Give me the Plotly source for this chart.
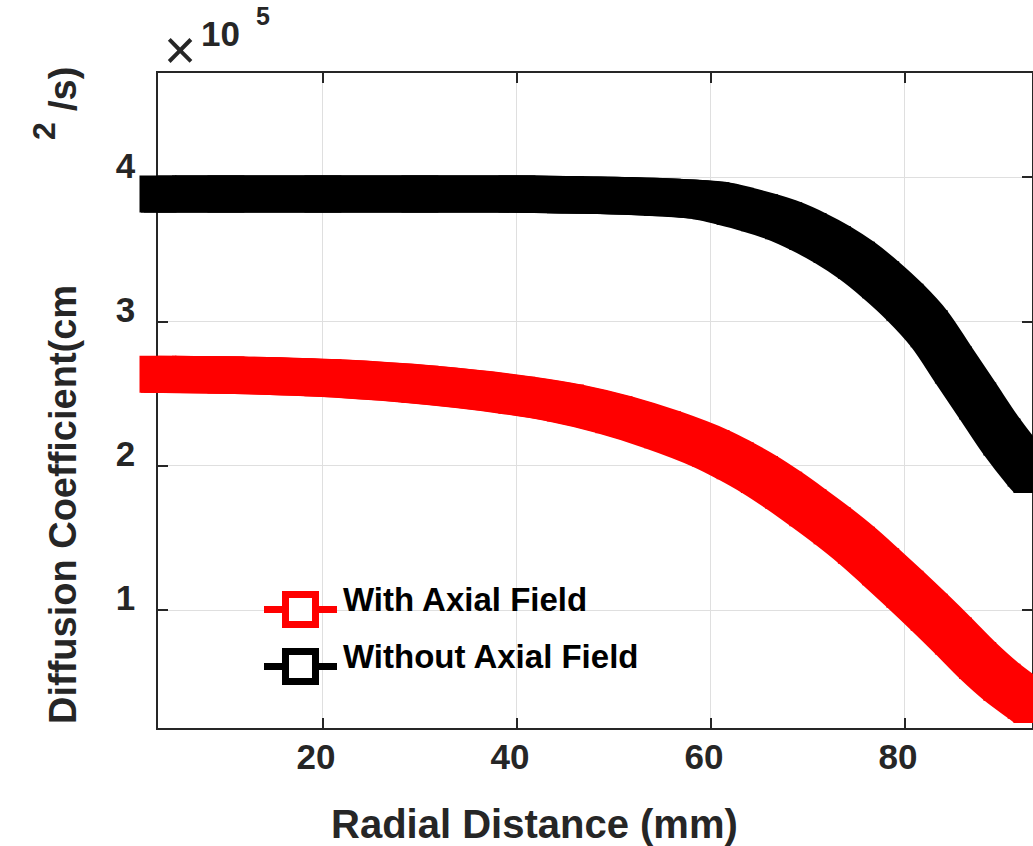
import plotly.graph_objects as go

W, H = 1033, 846

# ---------------- data (values in units of 10^5 cm^2/s) ----------------
radial_mm = [3, 10, 20, 30, 40, 45, 50, 55, 60, 62.5, 65, 67.5, 70, 72.5,
             75, 77.5, 80, 82.5, 85, 87.5, 90, 92.5, 93.1]
with_axial = [2.635, 2.63, 2.61, 2.565, 2.49, 2.435, 2.355, 2.25, 2.12, 2.035,
              1.94, 1.83, 1.71, 1.585, 1.45, 1.30, 1.145, 0.985, 0.82, 0.65,
              0.50, 0.375, 0.345]
without_axial = [3.885, 3.885, 3.885, 3.885, 3.885, 3.88, 3.875, 3.862, 3.838,
                 3.80, 3.755, 3.70, 3.625, 3.535, 3.425, 3.29, 3.135, 2.95,
                 2.70, 2.45, 2.20, 1.985, 1.94]
x_ticks = [20, 40, 60, 80]
y_ticks = [1, 2, 3, 4]
series_names = ["With Axial Field", "Without Axial Field"]
series_values = [with_axial, without_axial]
series_colors = ["#ff0000", "#000000"]

x_title = "Radial Distance (mm)"
y_title_main = "Diffusion Coefficient(cm"
y_title_sup = "2"
y_title_tail = "/s)"

# ---------------- geometry (px) ----------------
ax_l, ax_r, ax_t, ax_b = 158, 1032, 73, 728
x_range = [3.0, 93.1]
y_range = [0.182, 4.724]
ext_l = 128          # trace layer may extend a little left of the axis box
PEN = 37             # square "pen" size of the thick curves (px)

TXT = "#262626"
FONT = "Liberation Sans, Arial, Helvetica, sans-serif"


def px(x):
    return x / W


def py(y):
    return 1 - y / H


sx = (ax_r - ax_l) / (x_range[1] - x_range[0])
sy = (ax_b - ax_t) / (y_range[1] - y_range[0])
x2_range = [x_range[0] - (ax_l - ext_l) / sx, x_range[1] + (W - ax_r) / sx]

# the curves are drawn like a square pen: a main stroke plus thin strokes
# rendered through slightly shifted copies of the trace axes
pen_layers = [(0, PEN)] + [(s * a, w) for a, w in [(14, 9), (17, 3)] for s in (1, -1)]

fig = go.Figure()
# empty trace so that the framed axes (x, y) are drawn
fig.add_trace(go.Scatter(x=[], y=[], xaxis="x", yaxis="y", showlegend=False,
                         hoverinfo="skip"))

layout_axes = {}
for k, (off, width) in enumerate(pen_layers):
    ax_id = k + 2
    xs = f"xaxis{ax_id}"
    ys = f"yaxis{ax_id}"
    layout_axes[xs] = dict(domain=[px(ext_l), 1.0],
                           range=[x2_range[0] - off / sx, x2_range[1] - off / sx],
                           anchor=f"y{ax_id}", visible=False, showgrid=False,
                           fixedrange=True)
    layout_axes[ys] = dict(domain=[py(ax_b), py(ax_t)],
                           range=[y_range[0] - off / sy, y_range[1] - off / sy],
                           anchor=f"x{ax_id}", visible=False, showgrid=False,
                           fixedrange=True)
    for name, vals, col in zip(series_names, series_values, series_colors):
        main = off == 0
        fig.add_trace(go.Scatter(
            x=radial_mm, y=vals, name=name,
            mode="lines+markers" if main else "lines",
            line=dict(color=col, width=width, shape="spline", smoothing=1.0),
            marker=dict(symbol="square", size=PEN, color=col, line=dict(width=0)),
            xaxis=f"x{ax_id}", yaxis=f"y{ax_id}", showlegend=False,
            hoverinfo="skip"))

axis_common = dict(
    showline=True, linecolor=TXT, linewidth=1.5, mirror="ticks",
    ticks="inside", ticklen=10, tickwidth=1.5, tickcolor=TXT,
    showgrid=True, gridcolor="#dfdfdf", gridwidth=1, zeroline=False,
    tickfont=dict(family=FONT, size=35, color=TXT, weight="bold"),
)

fig.update_layout(
    width=W, height=H,
    margin=dict(l=0, r=0, t=0, b=0, autoexpand=False),
    paper_bgcolor="white", plot_bgcolor="rgba(0,0,0,0)",
    showlegend=False,
    xaxis=dict(domain=[px(ax_l), px(ax_r)], range=x_range, anchor="y",
               tickvals=x_ticks, ticklabelstandoff=-3, ticklabelshift=-7,
               **axis_common),
    yaxis=dict(domain=[py(ax_b), py(ax_t)], range=y_range, anchor="x",
               tickvals=y_ticks, ticklabelstandoff=14, ticklabelshift=-12,
               **axis_common),
    **layout_axes,
)

ann = []


def add_text(text, x, y, size, color=TXT, bold=True, angle=0, xanchor="center"):
    ann.append(dict(text=f"<b>{text}</b>" if bold else text,
                    x=px(x), y=py(y), xref="paper", yref="paper",
                    xanchor=xanchor, yanchor="middle", showarrow=False,
                    textangle=angle,
                    font=dict(family=FONT, size=size, color=color)))


# axis titles
add_text(x_title, 534, 824, 40)
add_text(y_title_main, 63, 505, 38, angle=-90)
add_text(y_title_sup, 44, 131, 32, angle=-90)
add_text(y_title_tail, 63, 89, 38, angle=-90)
# exponent
add_text("\u00d7", 180, 50, 55, bold=False)
add_text("10", 220, 34, 35)
add_text("5", 263, 16, 25)

# custom legend
shapes = []
leg_x0, leg_x1 = 264, 337
sq_c, sq_half = 300.5, 15
leg_y0, leg_dy = 609.5, 57
for i, (name, col) in enumerate(zip(series_names, series_colors)):
    cy = leg_y0 + i * leg_dy
    shapes.append(dict(type="line", xref="paper", yref="paper",
                       x0=px(leg_x0), x1=px(leg_x1), y0=py(cy), y1=py(cy),
                       line=dict(color=col, width=7)))
    shapes.append(dict(type="rect", xref="paper", yref="paper",
                       x0=px(sq_c - sq_half), x1=px(sq_c + sq_half),
                       y0=py(cy - sq_half), y1=py(cy + sq_half),
                       line=dict(color=col, width=7), fillcolor="white"))
    add_text(name, 341, cy - 10, 33, color="#000000", xanchor="left")

fig.update_layout(annotations=ann, shapes=shapes)
fig.write_html("out.html")
